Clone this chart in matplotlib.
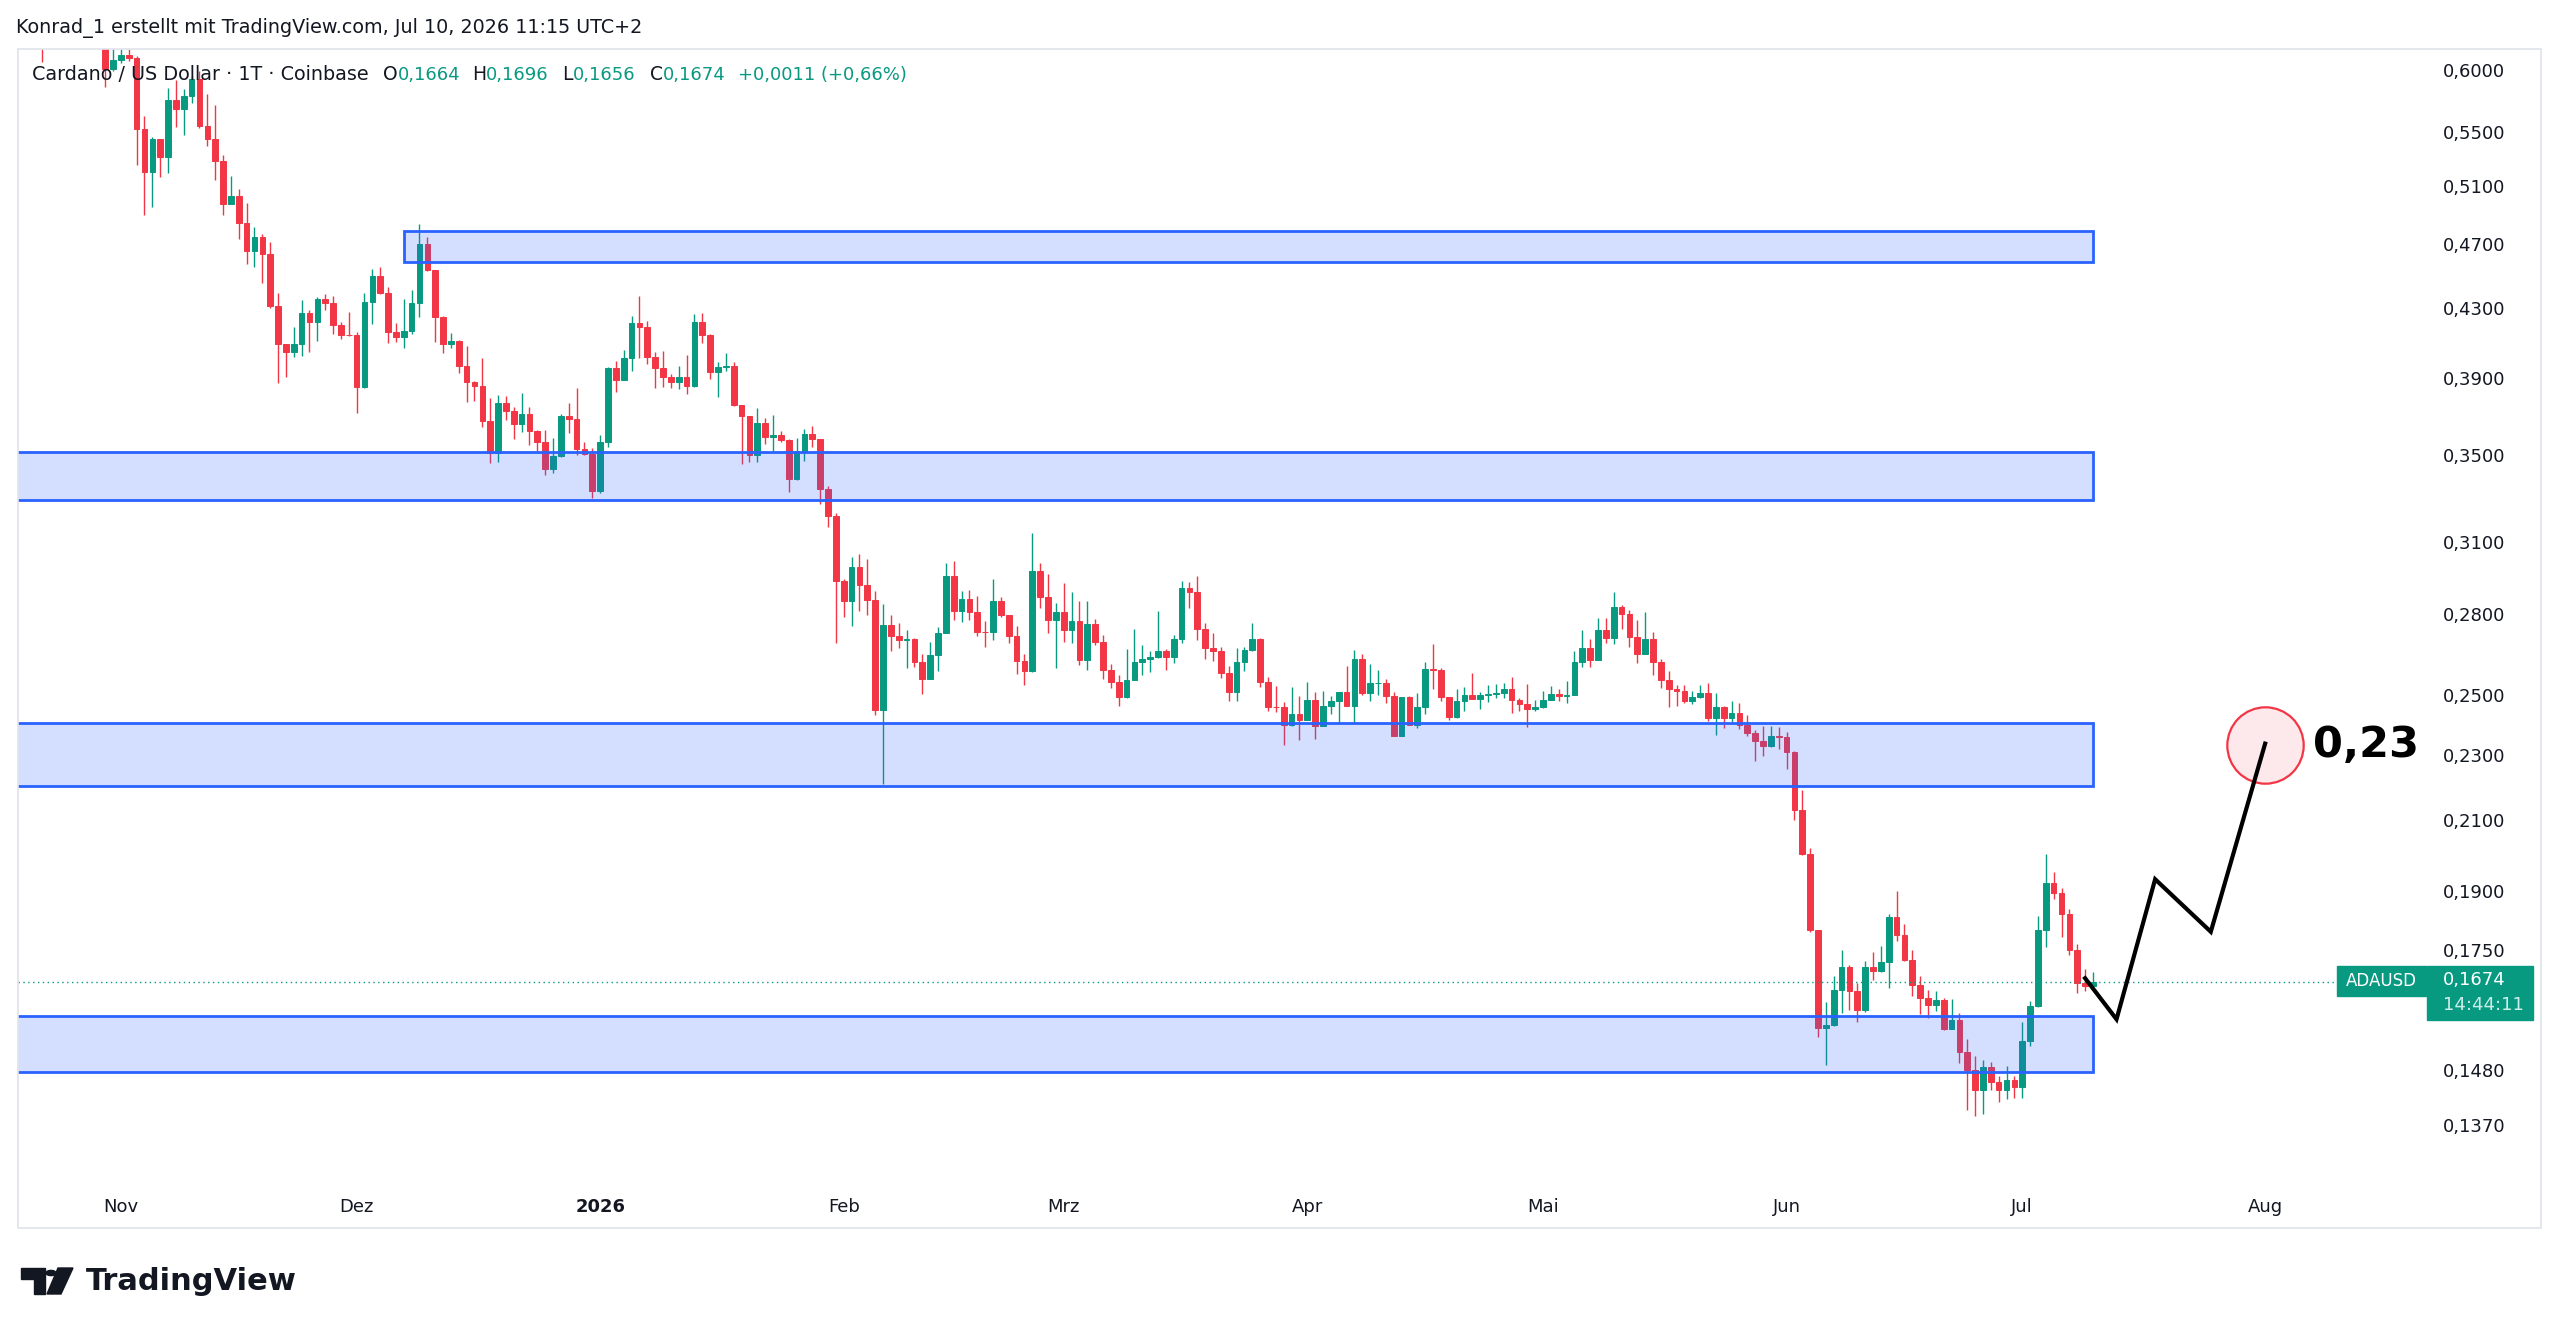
import matplotlib
matplotlib.use('Agg')
import numpy as np
import pandas as pd
import matplotlib.pyplot as plt
import matplotlib.dates as mdates
from matplotlib.patches import Rectangle, Polygon, Circle
from matplotlib.ticker import NullLocator

W, H = 2560, 1335

# daily candles, Oct 22 2025 .. Jul 10 2026 (open = previous close)
first_open = 0.648
closes = [
    # Oct 22-31
    0.632, 0.648, 0.655, 0.660, 0.668, 0.655, 0.640, 0.630, 0.6006, 0.6085,
    # Nov
    0.6128, 0.6100, 0.5522, 0.5197, 0.5445, 0.5310, 0.5753, 0.5679, 0.5785, 0.5923,
    0.5547, 0.5448, 0.5285, 0.4974, 0.5030, 0.4841, 0.4653, 0.4747, 0.4636, 0.4313,
    0.4088, 0.4040, 0.4088, 0.4270, 0.4214, 0.4352, 0.4328, 0.4198, 0.4142, 0.4140,
    # Dec
    0.3851, 0.4334, 0.4497, 0.4393, 0.4155, 0.4130, 0.4165, 0.4328, 0.4699, 0.4532,
    0.4248, 0.4088, 0.4105, 0.3961, 0.3878, 0.3855, 0.3670, 0.3511, 0.3766, 0.3724,
    0.3655, 0.3706, 0.3620, 0.3561, 0.3430, 0.3494, 0.3696, 0.3678, 0.3528, 0.3505,
    0.3329,
    # Jan
    0.3561, 0.3955, 0.3887, 0.4007, 0.4212, 0.4185, 0.4016, 0.3952, 0.3905, 0.3878,
    0.3902, 0.3855, 0.4218, 0.4140, 0.3930, 0.3960, 0.3966, 0.3753, 0.3696, 0.3500,
    0.3659, 0.3591, 0.3600, 0.3574, 0.3382, 0.3520, 0.3603, 0.3578, 0.3337, 0.3212,
    0.2934,
    # Feb
    0.2854, 0.2990, 0.2915, 0.2857, 0.2450, 0.2759, 0.2717, 0.2699, 0.2703, 0.2617,
    0.2558, 0.2643, 0.2727, 0.2952, 0.2813, 0.2860, 0.2808, 0.2733, 0.2732, 0.2853,
    0.2797, 0.2715, 0.2623, 0.2585, 0.2975, 0.2868, 0.2779, 0.2810,
    # Mar
    0.2737, 0.2775, 0.2627, 0.2763, 0.2693, 0.2588, 0.2545, 0.2493, 0.2552, 0.2617,
    0.2629, 0.2636, 0.2660, 0.2636, 0.2705, 0.2904, 0.2887, 0.2744, 0.2672, 0.2661,
    0.2577, 0.2510, 0.2617, 0.2664, 0.2705, 0.2545, 0.2460, 0.2459, 0.2397, 0.2436,
    0.2416,
    # Apr
    0.2484, 0.2393, 0.2464, 0.2479, 0.2511, 0.2463, 0.2630, 0.2507, 0.2543, 0.2544,
    0.2496, 0.2362, 0.2493, 0.2399, 0.2460, 0.2594, 0.2588, 0.2493, 0.2425, 0.2480,
    0.2501, 0.2486, 0.2501, 0.2503, 0.2507, 0.2523, 0.2482, 0.2469, 0.2452, 0.2460,
    # May
    0.2482, 0.2503, 0.2496, 0.2501, 0.2620, 0.2670, 0.2627, 0.2740, 0.2707, 0.2828,
    0.2802, 0.2711, 0.2649, 0.2705, 0.2617, 0.2552, 0.2522, 0.2516, 0.2478, 0.2493,
    0.2507, 0.2422, 0.2460, 0.2422, 0.2439, 0.2399, 0.2371, 0.2346, 0.2327, 0.2360,
    0.2358,
    # Jun
    0.2309, 0.2129, 0.2001, 0.1799, 0.1568, 0.1576, 0.1655, 0.1708, 0.1653, 0.1608,
    0.1708, 0.1698, 0.1720, 0.1832, 0.1786, 0.1725, 0.1666, 0.1637, 0.1620, 0.1632,
    0.1566, 0.1587, 0.1516, 0.1479, 0.1439, 0.1486, 0.1455, 0.1439, 0.1459, 0.1445,
    # Jul 1-10
    0.1540, 0.1617, 0.1799, 0.1923, 0.1895, 0.1840, 0.1750, 0.1670, 0.1664, 0.1674,
]
highs = [
    0.665, 0.655, 0.665, 0.668, 0.675, 0.680, 0.665, 0.650, 0.635, 0.6184,
    0.6175, 0.6175, 0.6120, 0.5626, 0.5460, 0.5450, 0.5848, 0.5917, 0.5840, 0.5950,
    0.5994, 0.5800, 0.5710, 0.5328, 0.5170, 0.5080, 0.4983, 0.4818, 0.4769, 0.4718,
    0.4390, 0.4090, 0.4185, 0.4348, 0.4288, 0.4368, 0.4384, 0.4372, 0.4218, 0.4272,
    0.4159, 0.4390, 0.4540, 0.4556, 0.4430, 0.4210, 0.4352, 0.4410, 0.4837, 0.4751,
    0.4535, 0.4250, 0.4153, 0.4110, 0.4076, 0.3880, 0.4007, 0.3789, 0.3807, 0.3800,
    0.3745, 0.3818, 0.3741, 0.3625, 0.3624, 0.3582, 0.3706, 0.3766, 0.3842, 0.3561,
    0.3533,
    0.3599, 0.3960, 0.3993, 0.4054, 0.4250, 0.4372, 0.4224, 0.4044, 0.4050, 0.3920,
    0.3964, 0.4026, 0.4264, 0.4268, 0.4145, 0.3986, 0.4038, 0.3984, 0.3753, 0.3698,
    0.3735, 0.3684, 0.3701, 0.3620, 0.3580, 0.3582, 0.3627, 0.3644, 0.3580, 0.3351,
    0.3227,
    0.2940, 0.3035, 0.3046, 0.3024, 0.2893, 0.2841, 0.2797, 0.2767, 0.2740, 0.2710,
    0.2650, 0.2695, 0.2750, 0.3007, 0.3018, 0.2893, 0.2897, 0.2874, 0.2773, 0.2941,
    0.2870, 0.2797, 0.2754, 0.2647, 0.3136, 0.3009, 0.2962, 0.2846,
    0.2925, 0.2887, 0.2853, 0.2853, 0.2781, 0.2721, 0.2611, 0.2573, 0.2666, 0.2743,
    0.2682, 0.2661, 0.2814, 0.2667, 0.2721, 0.2935, 0.2931, 0.2954, 0.2765, 0.2729,
    0.2674, 0.2605, 0.2670, 0.2674, 0.2767, 0.2708, 0.2565, 0.2531, 0.2475, 0.2528,
    0.2496,
    0.2546, 0.2510, 0.2513, 0.2498, 0.2511, 0.2603, 0.2664, 0.2647, 0.2613, 0.2591,
    0.2556, 0.2510, 0.2493, 0.2498, 0.2507, 0.2619, 0.2686, 0.2597, 0.2495, 0.2520,
    0.2528, 0.2580, 0.2510, 0.2535, 0.2541, 0.2543, 0.2565, 0.2490, 0.2540, 0.2484,
    0.2513, 0.2531, 0.2520, 0.2551, 0.2658, 0.2740, 0.2704, 0.2785, 0.2785, 0.2887,
    0.2837, 0.2817, 0.2778, 0.2808, 0.2731, 0.2630, 0.2585, 0.2535, 0.2535, 0.2513,
    0.2537, 0.2543, 0.2507, 0.2462, 0.2478, 0.2472, 0.2433, 0.2382, 0.2395, 0.2395,
    0.2390,
    0.2375, 0.2312, 0.2188, 0.2018, 0.1800, 0.1628, 0.1688, 0.1750, 0.1714, 0.1670,
    0.1722, 0.1746, 0.1760, 0.1840, 0.1901, 0.1815, 0.1750, 0.1688, 0.1655, 0.1651,
    0.1636, 0.1634, 0.1602, 0.1545, 0.1509, 0.1500, 0.1495, 0.1467, 0.1488, 0.1466,
    0.1581, 0.1630, 0.1834, 0.2001, 0.1952, 0.1908, 0.1853, 0.1764, 0.1704, 0.1696,
]
lows = [
    0.607, 0.625, 0.638, 0.645, 0.650, 0.645, 0.628, 0.622, 0.5861, 0.5992,
    0.6060, 0.6071, 0.5253, 0.4898, 0.4951, 0.5165, 0.5194, 0.5537, 0.5478, 0.5731,
    0.5530, 0.5390, 0.5144, 0.4898, 0.4970, 0.4734, 0.4573, 0.4556, 0.4450, 0.4297,
    0.3869, 0.3905, 0.4016, 0.4020, 0.4044, 0.4107, 0.4284, 0.4146, 0.4117, 0.4135,
    0.3713, 0.3845, 0.4204, 0.4385, 0.4092, 0.4101, 0.4063, 0.4146, 0.4244, 0.4525,
    0.4101, 0.4035, 0.4063, 0.3923, 0.3771, 0.3776, 0.3640, 0.3462, 0.3467, 0.3675,
    0.3578, 0.3616, 0.3547, 0.3519, 0.3402, 0.3413, 0.3490, 0.3611, 0.3497, 0.3497,
    0.3297,
    0.3317, 0.3541, 0.3824, 0.3887, 0.3938, 0.4007, 0.3974, 0.3842, 0.3847, 0.3842,
    0.3836, 0.3810, 0.3847, 0.4092, 0.3892, 0.3793, 0.3934, 0.3750, 0.3455, 0.3467,
    0.3467, 0.3555, 0.3519, 0.3561, 0.3324, 0.3380, 0.3472, 0.3541, 0.3267, 0.3164,
    0.2691,
    0.2790, 0.2754, 0.2814, 0.2797, 0.2433, 0.2209, 0.2658, 0.2670, 0.2597, 0.2600,
    0.2505, 0.2556, 0.2585, 0.2727, 0.2779, 0.2771, 0.2779, 0.2715, 0.2674, 0.2699,
    0.2790, 0.2689, 0.2576, 0.2537, 0.2582, 0.2824, 0.2729, 0.2597,
    0.2693, 0.2689, 0.2608, 0.2588, 0.2680, 0.2558, 0.2525, 0.2462, 0.2490, 0.2552,
    0.2573, 0.2582, 0.2633, 0.2588, 0.2615, 0.2689, 0.2824, 0.2699, 0.2630, 0.2622,
    0.2561, 0.2481, 0.2478, 0.2585, 0.2658, 0.2529, 0.2446, 0.2443, 0.2333, 0.2395,
    0.2349,
    0.2413, 0.2351, 0.2393, 0.2436, 0.2406, 0.2463, 0.2406, 0.2501, 0.2478, 0.2501,
    0.2472, 0.2360, 0.2362, 0.2399, 0.2386, 0.2436, 0.2523, 0.2478, 0.2413, 0.2420,
    0.2446, 0.2486, 0.2452, 0.2476, 0.2490, 0.2490, 0.2439, 0.2446, 0.2391, 0.2446,
    0.2457, 0.2482, 0.2478, 0.2472, 0.2500, 0.2600, 0.2600, 0.2625, 0.2691, 0.2686,
    0.2744, 0.2676, 0.2615, 0.2649, 0.2573, 0.2525, 0.2460, 0.2464, 0.2472, 0.2469,
    0.2490, 0.2410, 0.2365, 0.2388, 0.2408, 0.2385, 0.2360, 0.2281, 0.2297, 0.2325,
    0.2318,
    0.2254, 0.2100, 0.1999, 0.1794, 0.1549, 0.1489, 0.1574, 0.1602, 0.1609, 0.1583,
    0.1605, 0.1678, 0.1696, 0.1659, 0.1773, 0.1722, 0.1641, 0.1600, 0.1591, 0.1606,
    0.1564, 0.1566, 0.1493, 0.1399, 0.1387, 0.1390, 0.1439, 0.1415, 0.1421, 0.1423,
    0.1423, 0.1529, 0.1615, 0.1756, 0.1879, 0.1782, 0.1738, 0.1648, 0.1652, 0.1656,
]

# drawn zones: (left edge, top price, bottom price)
zone_lefts = ['2025-12-07 00:45', '2025-10-01', '2025-10-01', '2025-10-01']
zone_tops = [0.4791, 0.3516, 0.2406, 0.1596]
zone_bottoms = [0.4582, 0.3286, 0.2201, 0.1476]
zone_right = '2026-07-10 01:00'

# forecast zig-zag and target
path_dates = ['2026-07-09 00:00', '2026-07-13 00:00', '2026-07-17 22:00',
              '2026-07-25 00:00', '2026-07-31 22:00']
path_prices = [0.1682, 0.1588, 0.1932, 0.1795, 0.2336]
target_date = '2026-07-31 22:00'
target_price = 0.2332
target_text = '0,23'

last_price = 0.1674
price_ticks = [0.6, 0.55, 0.51, 0.47, 0.43, 0.39, 0.35, 0.31, 0.28, 0.25,
               0.23, 0.21, 0.19, 0.175, 0.148, 0.137]
month_ticks = ['2025-11-01', '2025-12-01', '2026-01-01', '2026-02-01', '2026-03-01',
               '2026-04-01', '2026-05-01', '2026-06-01', '2026-07-01', '2026-08-01']
month_labels = ['Nov', 'Dez', '2026', 'Feb', 'Mrz', 'Apr', 'Mai', 'Jun', 'Jul', 'Aug']

# legend line of the chart
legend_title = 'Cardano / US Dollar · 1T · Coinbase'
legend_keys = ['O', 'H', 'L', 'C', '']
legend_values = ['0,1664', '0,1696', '0,1656', '0,1674', '+0,0011 (+0,66%)']

UP, DOWN, TXT = '#089981', '#f23645', '#131722'


def px(x, y):
    return x / W, 1 - y / H


def main():
    dates = pd.date_range(end='2026-07-10', periods=len(closes), freq='D')
    x = mdates.date2num(dates)
    o = np.array([first_open] + closes[:-1])
    c = np.array(closes)
    hi = np.maximum(np.array(highs), np.maximum(o, c))
    lo = np.minimum(np.array(lows), np.minimum(o, c))
    col = np.where(c >= o, UP, DOWN)

    fig = plt.figure(figsize=(W / 100, H / 100), dpi=100)
    ax = fig.add_axes([18 / W, 1 - 1180 / H, (2430 - 18) / W, (1180 - 49) / H])
    ax.set_yscale('log')
    ax.set_ylim(0.1268, 0.6178)
    nov1 = mdates.date2num(pd.Timestamp('2025-11-01'))
    ax.set_xlim(nov1 - 13.1, nov1 + 293.9)
    for s in ax.spines.values():
        s.set_visible(False)

    # candles
    ax.vlines(x, lo, hi, colors=col, lw=1.0, zorder=2)
    ax.bar(x, np.abs(c - o), bottom=np.minimum(o, c), width=0.72,
           color=col, edgecolor=col, lw=0.7, zorder=2)

    # zones
    xr = mdates.date2num(pd.Timestamp(zone_right))
    for left, top, bot in zip(zone_lefts, zone_tops, zone_bottoms):
        xl = mdates.date2num(pd.Timestamp(left))
        ax.add_patch(Rectangle((xl, bot), xr - xl, top - bot,
                               facecolor=(0.16, 0.38, 1.0, 0.2),
                               edgecolor='#2962ff', lw=2, zorder=3))

    ax.axhline(last_price, color=UP, lw=1, ls=(0, (1, 2.5)), zorder=3)

    # forecast
    pdx = mdates.date2num(pd.to_datetime(path_dates))
    tx = mdates.date2num(pd.Timestamp(target_date))
    ax.plot([tx], [target_price], 'o', ms=55, mfc='#fde8eb', mec=DOWN, mew=1.6, zorder=5)
    ax.plot(pdx, path_prices, color='black', lw=3, solid_joinstyle='miter', zorder=6)
    ax.text(tx + 6.1, target_price, target_text, fontsize=31, fontweight='bold',
            va='center', ha='left', color='black', zorder=6)

    # axes ticks
    ax.yaxis.tick_right()
    ax.set_yticks(price_ticks)
    ax.set_yticklabels([f'{v:.4f}'.replace('.', ',') for v in price_ticks])
    ax.yaxis.set_minor_locator(NullLocator())
    ax.tick_params(axis='y', length=0, pad=9, labelsize=13, labelcolor=TXT)
    ax.set_xticks(mdates.date2num(pd.to_datetime(month_ticks)))
    ax.set_xticklabels(month_labels)
    ax.tick_params(axis='x', length=0, pad=13, labelsize=13, labelcolor=TXT)
    for lab in ax.get_xticklabels():
        if lab.get_text() == '2026':
            lab.set_fontweight('bold')

    # frame
    fig.patches.append(Rectangle(px(18, 1228), 2523 / W, 1179 / H, transform=fig.transFigure,
                                 fill=False, edgecolor='#e0e3eb', lw=1.2))

    # header and legend
    fig.text(*px(16, 28), 'Konrad_1 erstellt mit TradingView.com, Jul 10, 2026 11:15 UTC+2',
             fontsize=13.8, va='center', color=TXT)
    renderer = fig.canvas.get_renderer()
    fig.text(*px(32, 75), legend_title, fontsize=13.8, va='center', color=TXT)
    group_x = [383, 472, 562, 650, 738]
    for gx, key, val in zip(group_x, legend_keys, legend_values):
        xx = gx
        if key:
            t = fig.text(*px(xx, 75), key, fontsize=13.5, va='center', color=TXT)
            xx += t.get_window_extent(renderer).width
        fig.text(*px(xx, 75), val, fontsize=13, va='center', color=UP)

    # last price labels
    fig.patches.append(Rectangle(px(2337, 996), 89 / W, 30 / H, transform=fig.transFigure,
                                 color=UP, zorder=10))
    fig.patches.append(Rectangle(px(2427, 1020), 106 / W, 54 / H, transform=fig.transFigure,
                                 color=UP, zorder=10))
    fig.text(*px(2381, 981), 'ADAUSD', fontsize=12, color='white', ha='center',
             va='center', zorder=11)
    fig.text(*px(2443, 980), '0,1674', fontsize=13, color='white', va='center', zorder=11)
    fig.text(*px(2443, 1005), '14:44:11', fontsize=13, color='#cdeee8', va='center', zorder=11)

    # TradingView logo
    fig.patches.append(Polygon([px(21, 1268), px(45, 1268), px(45, 1294), px(34, 1294),
                                px(34, 1279), px(21, 1279)], closed=True,
                               transform=fig.transFigure, color=TXT))
    fig.patches.append(Polygon([px(58, 1268), px(73, 1268), px(61, 1294), px(47, 1294)],
                               closed=True, transform=fig.transFigure, color=TXT))
    cx, cy = px(51, 1273)
    fig.patches.append(Circle((cx, cy), 5 / W, transform=fig.transFigure, color=TXT))
    fig.text(*px(86, 1282), 'TradingView', fontsize=22, fontweight='bold',
             va='center', color=TXT)

    fig.savefig('out.png', dpi=100, facecolor='white')


if __name__ == '__main__':
    main()
